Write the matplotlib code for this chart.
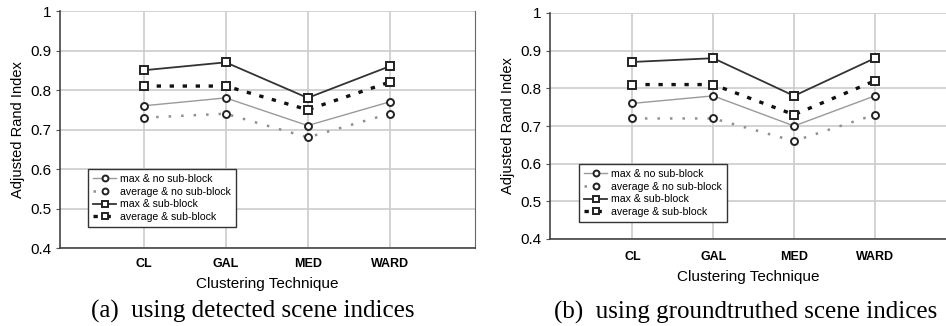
#! /usr/bin/env python3

import matplotlib
matplotlib.use("Agg")
import matplotlib.pyplot as plt

"""
Data read from the picture
"""

techniques = ["CL", "GAL", "MED", "WARD"]
labels = ["max & no sub-block", "average & no sub-block",
          "max & sub-block", "average & sub-block"]

# (a) detected scene indices
a_max_nosub = [0.76, 0.78, 0.71, 0.77]
a_avg_nosub = [0.73, 0.74, 0.68, 0.74]
a_max_sub = [0.85, 0.87, 0.78, 0.86]
a_avg_sub = [0.81, 0.81, 0.75, 0.82]

# (b) groundtruthed scene indices
b_max_nosub = [0.76, 0.78, 0.70, 0.78]
b_avg_nosub = [0.72, 0.72, 0.66, 0.73]
b_max_sub = [0.87, 0.88, 0.78, 0.88]
b_avg_sub = [0.81, 0.81, 0.73, 0.82]

yticks = [0.4, 0.5, 0.6, 0.7, 0.8, 0.9, 1.0]
ylabels = ["0.4", "0.5", "0.6", "0.7", "0.8", "0.9", "1"]

plt.rcParams["font.family"] = ["Liberation Sans", "DejaVu Sans"]

W, H = 946, 326
fig = plt.figure(figsize=(W / 100, H / 100), dpi=100)


def box(l, t, r, b):
    return [l / W, 1 - b / H, (r - l) / W, (b - t) / H]


styles = [
    dict(color="#9a9a9a", lw=1.0, ls="-", marker="o", ms=5),
    dict(color="#909090", lw=1.8, ls=(0, (1.0, 4.0)), marker="o", ms=5),
    dict(color="#333333", lw=1.3, ls="-", marker="s", ms=5.5),
    dict(color="#111111", lw=2.4, ls=(0, (1.3, 2.6)), marker="s", ms=5.5),
]


def panel(rect, xmax, series, caption, legrect, cap_x, cap_y, tick_pad,
          xlab_pad, right_spine):
    ax = fig.add_axes(rect)
    x = list(range(len(techniques)))
    for y, lab, st in zip(series, labels, styles):
        ax.plot(x, y, label=lab, color=st["color"], lw=st["lw"], ls=st["ls"],
                marker=st["marker"], ms=st["ms"], mfc="white",
                mec="#222222", mew=1.4)
    ax.set_xlim(-1.02, xmax)
    ax.set_ylim(0.4, 1.0)
    ax.set_yticks(yticks)
    ax.set_yticklabels(ylabels, fontsize=11)
    ax.set_xticks(x)
    ax.set_xticklabels(techniques, fontsize=9, fontweight="bold")
    ax.tick_params(axis="x", length=0, pad=tick_pad)
    ax.tick_params(axis="y", length=3, color="#555555", pad=3)
    ax.grid(True, color="#cccccc", lw=1.2)
    ax.set_axisbelow(True)
    ax.spines["top"].set_visible(False)
    ax.spines["right"].set_visible(right_spine)
    ax.spines["right"].set_color("#666666")
    for s in ["left", "bottom"]:
        ax.spines[s].set_color("#444444")
        ax.spines[s].set_linewidth(1.2)
    ax.set_xlabel("Clustering Technique", fontsize=11, labelpad=xlab_pad)
    ax.set_ylabel("Adjusted Rand Index", fontsize=10.5, labelpad=4)
    leg = ax.legend(loc="upper left", bbox_to_anchor=legrect,
                    bbox_transform=fig.transFigure, fontsize=7.6,
                    handlelength=2.2, handletextpad=0.4, labelspacing=0.25,
                    borderpad=0.45, fancybox=False, framealpha=1,
                    edgecolor="#333333", markerscale=0.85)
    leg.get_frame().set_linewidth(1.0)
    fig.text(cap_x / W, cap_y, caption,
             family=["Liberation Serif", "DejaVu Serif"], fontsize=18,
             ha="center", va="center")
    return ax


panel(box(60, 11, 475, 248), 4.04,
      [a_max_nosub, a_avg_nosub, a_max_sub, a_avg_sub],
      "(a)  using detected scene indices",
      (83 / W, 1 - 164 / H), 253, 1 - 311 / H, 7, 5, True)

panel(box(550, 13, 946, 239), 3.88,
      [b_max_nosub, b_avg_nosub, b_max_sub, b_avg_sub],
      "(b)  using groundtruthed scene indices",
      (574 / W, 1 - 159 / H), 746, 1 - 312 / H, 9, 5, False)

fig.savefig("out.png", dpi=100)
